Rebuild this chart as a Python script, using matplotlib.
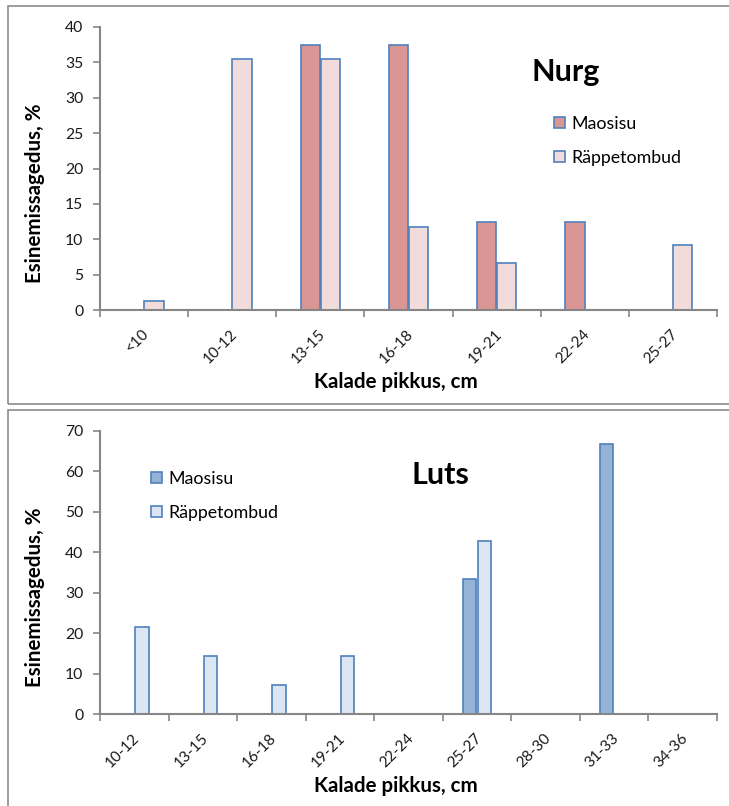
import matplotlib as mpl
mpl.use('Agg')
import matplotlib.pyplot as plt
from matplotlib.patches import Rectangle, Patch
from matplotlib.transforms import ScaledTranslation
import numpy as np

plt.rcParams['font.family'] = ['Lato', 'DejaVu Sans']

# Nurg
nurg_cats = ['<10', '10-12', '13-15', '16-18', '19-21', '22-24', '25-27']
nurg_mao = [0, 0, 37.5, 37.5, 12.5, 12.5, 0]
nurg_rap = [1.3, 35.5, 35.5, 11.8, 6.6, 0, 9.2]

# Luts
luts_cats = ['10-12', '13-15', '16-18', '19-21', '22-24', '25-27', '28-30', '31-33', '34-36']
luts_mao = [0, 0, 0, 0, 0, 33.3, 0, 66.7, 0]
luts_rap = [21.4, 14.3, 7.1, 14.3, 0, 42.9, 0, 0, 0]

W, H = 729, 806
fig = plt.figure(figsize=(W / 100, H / 100), dpi=100)

edge = '#4F81BD'
axis_col = '#868686'
txt_col = '#1a1a1a'


def px_box(x0, y0, x1, y1):
    return [x0 / W, 1 - y1 / H, (x1 - x0) / W, (y1 - y0) / H]


# chart area frames
for (x0, y0, x1, y1) in [(8, 6, 760, 404), (8, 410, 760, 840)]:
    fig.patches.append(Rectangle((x0 / W, 1 - y1 / H), (x1 - x0) / W, (y1 - y0) / H,
                                 transform=fig.transFigure, fill=False,
                                 edgecolor='#8c8c8c', lw=1.2, clip_on=False))


def draw(rect, cats, mao, rap, c_mao, c_rap, ymax, ystep, width, off):
    ax = fig.add_axes(rect)
    x = np.arange(len(cats))
    b1 = ax.bar(x - off, mao, width, color=c_mao, edgecolor=edge, lw=1.2)
    b2 = ax.bar(x + off, rap, width, color=c_rap, edgecolor=edge, lw=1.2)
    # no outline for empty bars
    for b, v in zip(list(b1) + list(b2), list(mao) + list(rap)):
        if v == 0:
            b.set_visible(False)
    ax.set_xlim(-0.5, len(cats) - 0.5)
    ax.set_ylim(0, ymax)
    ax.set_yticks(np.arange(0, ymax + 1, ystep))
    ax.set_xticks(np.arange(len(cats) + 1) - 0.5)
    ax.set_xticklabels([])
    ax.set_xticks(x, minor=True)
    ax.set_xticklabels(cats, minor=True, rotation=45, ha='right', va='center',
                       rotation_mode='anchor')
    ax.tick_params(axis='x', which='major', length=5, color=axis_col, width=1.2)
    ax.tick_params(axis='x', which='minor', length=0, pad=15.5, labelsize=11, labelcolor=txt_col)
    ax.tick_params(axis='y', length=5, color=axis_col, width=1.2, labelsize=11.3,
                   labelcolor=txt_col, pad=7)
    # nudge the slanted category labels a little to the right
    shift = ScaledTranslation(3 / 100, 0, fig.dpi_scale_trans)
    for lbl in ax.get_xticklabels(minor=True):
        lbl.set_transform(lbl.get_transform() + shift)
    for s in ['top', 'right']:
        ax.spines[s].set_visible(False)
    for s in ['left', 'bottom']:
        ax.spines[s].set_color(axis_col)
        ax.spines[s].set_linewidth(1.5)
    handles = [Patch(facecolor=c_mao, edgecolor=edge, lw=1.2, label='Maosisu'),
               Patch(facecolor=c_rap, edgecolor=edge, lw=1.2, label='Räppetombud')]
    return ax, handles


ax1, h1 = draw(px_box(100, 27, 717, 310), nurg_cats, nurg_mao, nurg_rap,
               '#D99694', '#F2DCDB', 40, 5, 0.22, 0.112)
ax2, h2 = draw(px_box(100, 431, 717, 714), luts_cats, luts_mao, luts_rap,
               '#95B3D7', '#DCE6F2', 70, 10, 0.2, 0.11)

fig.text(566 / W, 1 - 72 / H, 'Nurg', fontsize=22, fontweight='bold', ha='center', va='center')
fig.text(440 / W, 1 - 475 / H, 'Luts', fontsize=22, fontweight='bold', ha='center', va='center')

for ax, hs, (lx, ly) in [(ax1, h1, (554, 116)), (ax2, h2, (151, 471))]:
    ax.legend(handles=hs, loc='upper left', bbox_to_anchor=(lx / W, 1 - ly / H),
              bbox_transform=fig.transFigure, frameon=False, fontsize=12.8,
              handlelength=0.6, handleheight=0.6, handletextpad=0.35,
              labelspacing=1.0, borderpad=0, borderaxespad=0)

for yc in [382, 786]:
    fig.text(396 / W, 1 - yc / H, 'Kalade pikkus, cm', fontsize=14.8, fontweight='bold',
             ha='center', va='center')
for yc in [193, 597]:
    fig.text(35 / W, 1 - yc / H, 'Esinemissagedus, %', fontsize=14.8, fontweight='bold',
             ha='center', va='center', rotation=90)

plt.savefig('out.png', dpi=100)
